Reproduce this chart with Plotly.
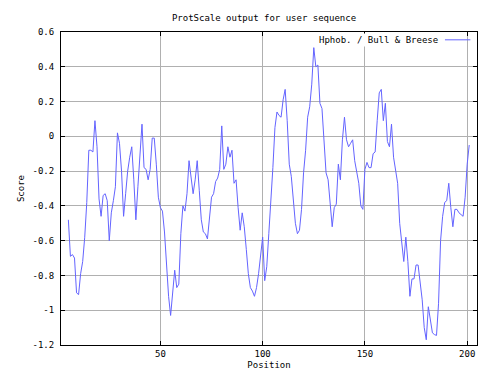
import plotly.graph_objects as go

positions = list(range(5, 202))
scores = [
    -0.48, -0.69, -0.68, -0.70, -0.90, -0.91, -0.79, -0.72, -0.58, -0.38,  # 5-14
    -0.08, -0.08, -0.09, 0.09, -0.06, -0.36, -0.46, -0.34, -0.33, -0.37,   # 15-24
    -0.60, -0.44, -0.37, -0.29, 0.02, -0.04, -0.20, -0.46, -0.33, -0.20,   # 25-34
    -0.12, -0.06, -0.25, -0.48, -0.29, -0.10, 0.07, -0.18, -0.19, -0.25,   # 35-44
    -0.19, -0.01, -0.01, -0.16, -0.35, -0.41, -0.43, -0.55, -0.75, -0.92,  # 45-54
    -1.03, -0.88, -0.77, -0.87, -0.85, -0.56, -0.40, -0.43, -0.33, -0.14,  # 55-64
    -0.23, -0.33, -0.25, -0.14, -0.31, -0.48, -0.55, -0.56, -0.59, -0.48,  # 65-74
    -0.35, -0.33, -0.26, -0.24, -0.19, 0.06, -0.19, -0.16, -0.06, -0.12,   # 75-84
    -0.08, -0.27, -0.25, -0.41, -0.54, -0.44, -0.52, -0.65, -0.79, -0.87,  # 85-94
    -0.89, -0.92, -0.87, -0.79, -0.69, -0.58, -0.83, -0.75, -0.56, -0.39,  # 95-104
    -0.18, 0.05, 0.14, 0.12, 0.11, 0.21, 0.27, 0.09, -0.16, -0.23,         # 105-114
    -0.37, -0.50, -0.56, -0.54, -0.42, -0.21, -0.08, 0.11, 0.17, 0.30,     # 115-124
    0.51, 0.40, 0.41, 0.19, 0.16, -0.02, -0.21, -0.25, -0.41, -0.52,       # 125-134
    -0.41, -0.39, -0.16, -0.25, -0.02, 0.11, -0.02, -0.06, -0.04, -0.02,   # 135-144
    -0.14, -0.21, -0.27, -0.40, -0.42, -0.19, -0.15, -0.18, -0.18, -0.10,  # 145-154
    -0.09, 0.09, 0.25, 0.27, 0.09, 0.19, -0.03, -0.06, 0.07, -0.12,        # 155-164
    -0.19, -0.27, -0.50, -0.62, -0.72, -0.58, -0.72, -0.92, -0.82, -0.82,  # 165-174
    -0.74, -0.74, -0.85, -0.94, -1.10, -1.17, -0.98, -1.06, -1.13, -1.14,  # 175-184
    -1.145, -0.96, -0.60, -0.46, -0.38, -0.37, -0.27, -0.41, -0.52, -0.42, # 185-194
    -0.42, -0.44, -0.45, -0.46, -0.35, -0.16, -0.05,                       # 195-201
]

x_ticks = [50, 100, 150, 200]
y_ticks = [0.6, 0.4, 0.2, 0, -0.2, -0.4, -0.6, -0.8, -1.0, -1.2]
y_tick_text = ["0.6", "0.4", "0.2", "0", "-0.2", "-0.4", "-0.6", "-0.8", "-1", "-1.2"]

title_text = "ProtScale output for user sequence"
series_name = "Hphob. / Bull & Breese"

FONT = "DejaVu Sans Mono"
LINE_COLOR = "#6464ff"

# the html page body adds an 8px margin, so the figure is sized 8px smaller
W, H = 489, 374

fig = go.Figure()
fig.add_trace(go.Scatter(
    x=positions, y=scores, mode="lines", name=series_name,
    line=dict(color=LINE_COLOR, width=1), showlegend=False,
))

fig.update_layout(
    width=W, height=H, autosize=False,
    margin=dict(l=43, r=20, t=24, b=37),
    paper_bgcolor="white", plot_bgcolor="white",
    font=dict(family=FONT, size=9, color="#000000"),
    title=dict(text=title_text, x=256 / W, xanchor="center", y=1 - 10 / H, yanchor="middle",
               font=dict(family=FONT, size=9, color="#000000")),
    xaxis=dict(
        range=[1.4, 204.8], tickvals=x_ticks, ticktext=[str(v) for v in x_ticks],
        showgrid=True, gridcolor="#b0b0b0", gridwidth=1, zeroline=False,
        showline=True, linecolor="#000000", linewidth=1, mirror="ticks",
        ticks="inside", ticklen=4, tickcolor="#000000",
        title=dict(text="Position", font=dict(family=FONT, size=9), standoff=3),
        tickfont=dict(family=FONT, size=9),
    ),
    yaxis=dict(
        range=[-1.2, 0.6], tickvals=y_ticks, ticktext=y_tick_text,
        showgrid=True, gridcolor="#b0b0b0", gridwidth=1, zeroline=False,
        showline=True, linecolor="#000000", linewidth=1, mirror="ticks",
        ticks="inside", ticklen=4, tickcolor="#000000", ticklabelstandoff=4,
        title=dict(text="Score", font=dict(family=FONT, size=9), standoff=6),
        tickfont=dict(family=FONT, size=9),
    ),
)

# legend drawn gnuplot-style: text then line sample on the right
fig.add_annotation(
    xref="paper", yref="paper", x=0.91, y=0.975, xanchor="right", yanchor="middle",
    text=series_name, showarrow=False, font=dict(family=FONT, size=9, color="#000000"),
    bgcolor="white",
)
fig.add_shape(type="line", xref="paper", yref="paper", x0=0.923, x1=0.984, y0=0.975, y1=0.975,
              line=dict(color=LINE_COLOR, width=1))

fig.write_html("out.html")
